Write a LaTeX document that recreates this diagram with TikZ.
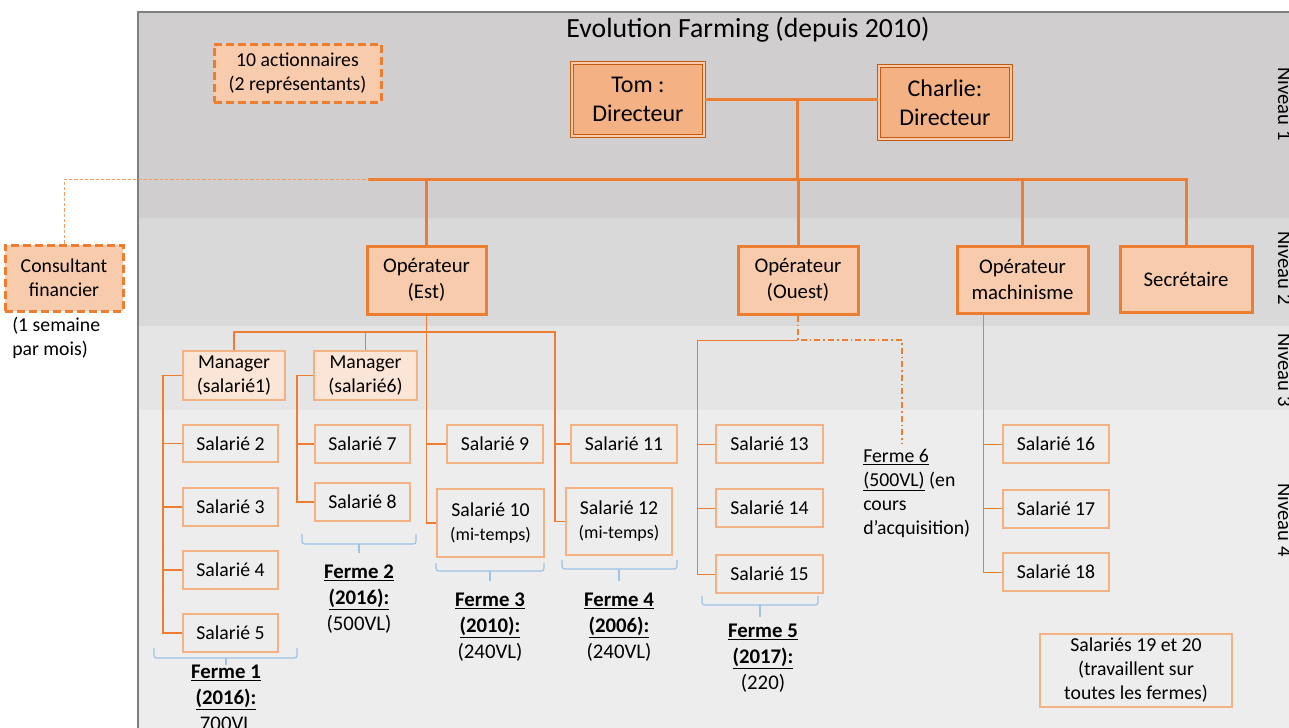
\documentclass[tikz,border=0pt]{standalone}
\usepackage{fontspec}
\setmainfont{Carlito}
\definecolor{orA}{HTML}{ED7D31}
\definecolor{orD}{HTML}{C55A11}
\definecolor{orF1}{HTML}{F4B183}
\definecolor{orF2}{HTML}{F8CBAD}
\definecolor{orF3}{HTML}{FBE5D6}
\definecolor{bandA}{HTML}{D0CECE}
\definecolor{bandB}{HTML}{D9D9D9}
\definecolor{bandC}{HTML}{E5E5E5}
\definecolor{bandD}{HTML}{EDEDED}
\definecolor{frameC}{HTML}{7F7F7F}
\definecolor{braceC}{HTML}{9DC3E6}
\tikzset{
 sz/.style 2 args={minimum width=#1*0.75pt, minimum height=#2*0.75pt},
 nb/.style={inner sep=0pt, align=center, text=black},
 fsmall/.style={font=\fontsize{14.8}{18}\selectfont},
 dirbox/.style={nb, draw=orD, double=orF2, double distance=1.1pt, line width=1pt, fill=orF1, font=\fontsize{18}{22}\selectfont},
 opbox/.style={nb, draw=orA, line width=2.25pt, fill=orF2, font=\fontsize{15.6}{19}\selectfont},
 dashbox/.style={nb, draw=orA, line width=2.25pt, fill=orF2, dash pattern=on 6pt off 3pt, fsmall},
 mgrbox/.style={nb, draw=orF1, line width=1.5pt, fill=orF3, fsmall},
 salbox/.style={nb, draw=orF1, line width=1.5pt, fsmall},
 plaintxt/.style={nb, fsmall},
 fermelab/.style={nb, font=\fontsize{15.6}{19.5}\selectfont},
 nivlab/.style={nb, font=\fontsize{15.5}{18}\selectfont},
 l1/.style={draw=orA, line width=2.25pt},
 l3/.style={draw=orA, line width=1.1pt},
 lthin/.style={draw=orA, line width=0.75pt},
 ldashdot/.style={draw=orA, line width=1.1pt, dash pattern=on 4.5pt off 2.25pt on 1.2pt off 2.25pt},
 ldash/.style={draw=orA!75, line width=0.6pt, dash pattern=on 2.5pt off 1.5pt},
 br/.style={draw=braceC, line width=0.9pt, rounded corners=2pt},
}
\newcommand\fbrace[6]{\draw[br] (#1,#3) -- (#1,#4) -- (#2,#4) -- (#2,#3); \draw[br] (#5,#4) -- (#5,#6);}
\begin{document}
\begin{tikzpicture}[x=0.75pt,y=-0.75pt]
\useasboundingbox (0,0) rectangle (1289,728);
% bands
\fill[bandA] (138,12) rectangle (1300,218);
\fill[bandB] (138,218) rectangle (1300,326);
\fill[bandC] (138,326) rectangle (1300,410);
\fill[bandD] (138,410) rectangle (1300,740);
\draw[frameC, line width=1.5pt] (138,740) -- (138,12) -- (1300,12);
% level labels
\node[nivlab, anchor=base, rotate=-90] (n1) at (1278,104) {Niveau 1};
\node[nivlab, anchor=base, rotate=-90] (n2) at (1278,268) {Niveau 2};
\node[nivlab, anchor=base, rotate=-90] (n3) at (1278,370) {Niveau 3};
\node[nivlab, anchor=base, rotate=-90] (n4) at (1278,520) {Niveau 4};
% title
\node[nb, anchor=base, font=\fontsize{20.8}{24}\selectfont] (title) at (748,37) {Evolution Farming (depuis 2010)};
% level 1
\node[dirbox, sz={132}{73}] (tom) at (638,99.5) {Tom :\\Directeur};
\node[dirbox, sz={132}{73}] (charlie) at (945,102.5) {Charlie:\\Directeur};
\node[dashbox, sz={167}{58}] (act) at (297.5,73) {10 actionnaires\\(2 représentants)};
% level 2
\node[opbox, sz={119}{68}] (est) at (426.5,280) {Opérateur\\(Est)};
\node[opbox, sz={120}{68}] (ouest) at (798,280) {Opérateur\\(Ouest)};
\node[opbox, sz={131}{67}] (mach) at (1022.5,279.5) {Opérateur\\machinisme};
\node[opbox, sz={132}{66}] (secr) at (1186,279) {Secrétaire};
\node[dashbox, sz={118}{66}] (cons) at (64,278) {Consultant\\financier};
\node[plaintxt, anchor=west, align=left] (sem) at (12,338) {(1 semaine\\par mois)};
% level 3
\node[mgrbox, sz={102}{49}] (man1) at (234,375.5) {Manager\\(salarié1)};
\node[mgrbox, sz={103}{49}] (man6) at (365.5,375.5) {Manager\\(salarié6)};
% level 4
\node[salbox, sz={95}{37}] (s2) at (230.5,443.5) {Salarié 2};
\node[salbox, sz={95}{38}] (s3) at (230.5,507) {Salarié 3};
\node[salbox, sz={95}{38}] (s4) at (230.5,570) {Salarié 4};
\node[salbox, sz={95}{38}] (s5) at (230.5,633) {Salarié 5};
\node[salbox, sz={95}{38}] (s7) at (362.5,444) {Salarié 7};
\node[salbox, sz={95}{38}] (s8) at (362.5,502) {Salarié 8};
\node[salbox, sz={96}{38}] (s9) at (495,444) {Salarié 9};
\node[salbox, sz={107}{68}] (s10) at (490.5,523) {Salarié 10\\{\fontsize{13.5}{18}\selectfont(mi-temps)}};
\node[salbox, sz={106}{38}] (s11) at (624,444) {Salarié 11};
\node[salbox, sz={106}{67}] (s12) at (619,521.5) {Salarié 12\\{\fontsize{13.5}{18}\selectfont(mi-temps)}};
\node[salbox, sz={107}{38}] (s13) at (769.5,444) {Salarié 13};
\node[salbox, sz={107}{38}] (s14) at (769.5,508) {Salarié 14};
\node[salbox, sz={107}{38}] (s15) at (769.5,574) {Salarié 15};
\node[salbox, sz={106}{38}] (s16) at (1056,444) {Salarié 16};
\node[salbox, sz={106}{38}] (s17) at (1056,508.5) {Salarié 17};
\node[salbox, sz={106}{38}] (s18) at (1056,572) {Salarié 18};
\node[salbox, sz={192}{73}] (s1920) at (1136,670.5) {Salariés 19 et 20\\(travaillent sur\\toutes les fermes)};
\node[plaintxt, anchor=west, align=left] (f6) at (863,493) {\underline{Ferme 6}\\\underline{(500VL)} (en\\cours\\d’acquisition)};
% farm labels
\node[fermelab] (f1) at (226,698) {\underline{\textbf{Ferme 1}}\\\underline{\textbf{(2016):}}\\700VL};
\node[fermelab] (f2) at (359,599) {\underline{\textbf{Ferme 2}}\\\underline{\textbf{(2016):}}\\(500VL)};
\node[fermelab] (f3) at (490,627) {\underline{\textbf{Ferme 3}}\\\underline{\textbf{(2010):}}\\(240VL)};
\node[fermelab] (f4) at (619,627) {\underline{\textbf{Ferme 4}}\\\underline{\textbf{(2006):}}\\(240VL)};
\node[fermelab] (f5) at (763,658) {\underline{\textbf{Ferme 5}}\\\underline{\textbf{(2017):}}\\(220)};
% braces
\fbrace{154}{297}{648}{658}{226}{665}
\fbrace{302}{416}{534}{544}{359}{553}
\fbrace{436}{544}{563}{571}{490}{581}
\fbrace{562}{677}{560}{569}{619}{581}
\fbrace{702}{818}{596}{605}{760}{617}
% coordinates
\coordinate (busL) at (368,179);
\coordinate (j) at (797,99.5);
\coordinate (h3) at (0,332);
\coordinate (o3) at (0,340);
\coordinate (c1) at (163,0);
\coordinate (c6) at (297,0);
\coordinate (c9) at (426.5,0);
\coordinate (c11) at (555,0);
\coordinate (c13) at (697,0);
\coordinate (c16) at (983,0);
\coordinate (f6t) at (902,443);
% level 1 connectors
\draw[l1] (tom.east) -- (charlie.west |- tom.east);
\draw[l1] (j) -- (j |- busL);
\draw[l1] (busL) -- (secr.north |- busL) -- (secr.north);
\draw[l1] (est.north |- busL) -- (est.north);
\draw[l1] (ouest.north |- busL) -- (ouest.north);
\draw[l1] (mach.north |- busL) -- (mach.north);
\draw[ldash] (cons.north) -- (cons.north |- busL) -- (busL);
% Est
\draw[l3] (est.south) -- (c9 |- s10.west) -- (s10.west);
\draw[l3] (c9 |- s9.west) -- (s9.west);
\draw[l3] (man1.north) -- (man1.north |- h3) -- (c11 |- h3) -- (c11 |- s12.west) -- (s12.west);
\draw[l3] (c11 |- s11.west) -- (s11.west);
\draw[l3] (man6.north |- h3) -- (man6.north);
\draw[l3] (man1.west) -- (c1 |- man1.west) -- (c1 |- s5.west) -- (s5.west);
\foreach \s in {s2,s3,s4} \draw[l3] (c1 |- \s.west) -- (\s.west);
\draw[l3] (man6.west) -- (c6 |- man6.west) -- (c6 |- s8.west) -- (s8.west);
\draw[l3] (c6 |- s7.west) -- (s7.west);
% Ouest
\draw[lthin] (ouest.south |- o3) -- (c13 |- o3) -- (c13 |- s15.west) -- (s15.west);
\foreach \s in {s13,s14} \draw[lthin] (c13 |- \s.west) -- (\s.west);
\draw[ldashdot] (ouest.south) -- (ouest.south |- o3) -- (f6t |- o3) -- (f6t);
% machinisme
\draw[lthin] (c16 |- mach.south) -- (c16 |- s18.west) -- (s18.west);
\foreach \s in {s16,s17} \draw[lthin] (c16 |- \s.west) -- (\s.west);
\end{tikzpicture}
\end{document}
